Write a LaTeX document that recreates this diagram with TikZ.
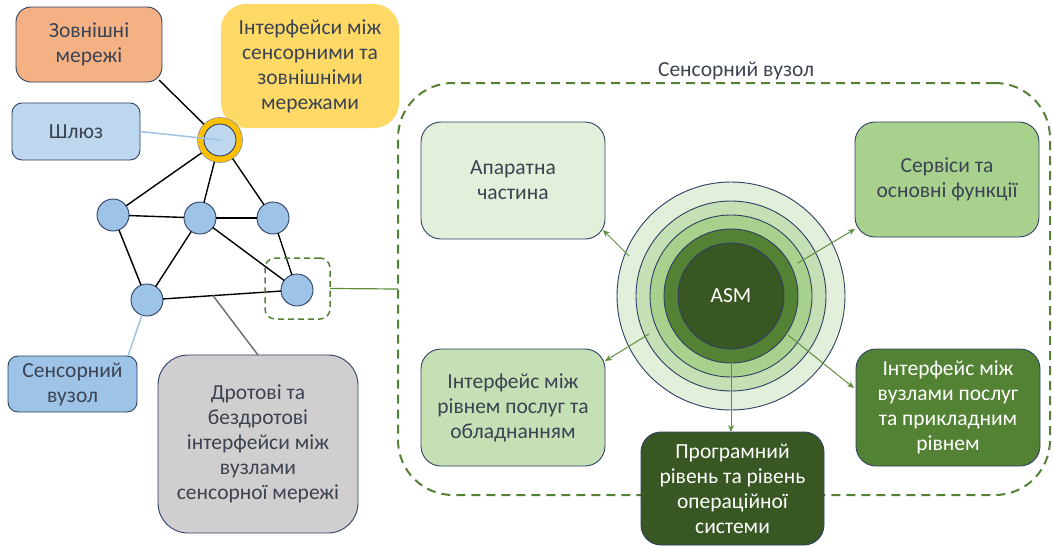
\documentclass[tikz,border=0pt]{standalone}
\usepackage{fontspec}
\setmainfont{Carlito}
\usetikzlibrary{arrows.meta,calc}
\definecolor{navy}{HTML}{2F3F63}
\definecolor{txt}{HTML}{3B4352}
\definecolor{cExt}{HTML}{F4B183}
\definecolor{cYel}{HTML}{FFD966}
\definecolor{cGold}{HTML}{FFC000}
\definecolor{cLB}{HTML}{BDD7EE}
\definecolor{cMB}{HTML}{9DC3E6}
\definecolor{cGray}{HTML}{D0CECE}
\definecolor{gA}{HTML}{E2EFDA}
\definecolor{gB}{HTML}{C5E0B4}
\definecolor{gC}{HTML}{A9D18E}
\definecolor{gD}{HTML}{548235}
\definecolor{gE}{HTML}{385723}
\definecolor{dashg}{HTML}{548235}
\definecolor{arrg}{HTML}{5E8F3E}
\tikzset{
  box/.style={draw=navy, line width=0.9pt, rounded corners=#1, inner sep=0pt, outer sep=0pt,
    align=center, font=\fontsize{21.5}{25}\selectfont, text=txt},
  box/.default=20pt,
  ring/.style={circle, draw=navy, line width=0.9pt, inner sep=0pt, outer sep=0pt},
  gnode/.style={circle, draw=navy, line width=0.9pt, fill=cMB, minimum size=32pt, inner sep=0pt, outer sep=0pt},
  edge/.style={draw=black, line width=1.4pt},
  arr/.style={draw=arrg, line width=1pt, -{Stealth[length=7pt,width=6pt]}},
  bigdash/.style={draw=dashg, line width=2pt, dash pattern=on 9pt off 6pt},
}
\begin{document}
\begin{tikzpicture}[x=1pt,y=-1pt]
\useasboundingbox (0,0) rectangle (1052,546);

% ---- container ----
\node[bigdash, rounded corners=55pt, minimum width=652pt, minimum height=412pt, inner sep=0pt, outer sep=0pt] (cont) at (724,289) {};
\node[font=\fontsize{21.5}{25}\selectfont, text=txt] (contlab) at (736,71) {Сенсорний вузол};

% ---- left boxes ----
\node[box=15pt, fill=cExt, minimum width=146pt, minimum height=75pt] (ext) at (89,44.5) {Зовнішні\\мережі};
\node[box=25pt, draw=none, fill=cYel, minimum width=178pt, minimum height=124pt] (yel) at (310,66) {Інтерфейси між\\сенсорними та\\зовнішніми\\мережами};
\node[box=10pt, fill=cLB, minimum width=128pt, minimum height=57pt] (shl) at (76,131.5) {Шлюз};
\node[box=10pt, fill=cMB, minimum width=129pt, minimum height=56pt] (sn) at (72.5,384) {Сенсорний\\вузол};
\node[box=30pt, fill=cGray, minimum width=200pt, minimum height=178pt] (gray) at (258,444) {Дротові та\\бездротові\\інтерфейси між\\вузлами\\сенсорної мережі};

% ---- graph ----
\node[circle, draw=navy!60, line width=0.6pt, fill=cGold, minimum size=45pt, inner sep=0pt, outer sep=0pt] (gwr) at (220,140) {};
\node[gnode, fill=cLB] (gw) at (220,140) {};
\node[gnode] (n1) at (113,215) {};
\node[gnode] (n2) at (200,218) {};
\node[gnode] (n3) at (273,218) {};
\node[gnode] (n4) at (147,300) {};
\node[gnode] (n5) at (297,290) {};

\draw[edge] ($(ext.south east)+(-3,-2)$) -- (gwr);
\draw[edge] (gwr) -- (n1);
\draw[edge] (gwr) -- (n2);
\draw[edge] (gwr) -- (n3);
\draw[edge] (n1) -- (n2);
\draw[edge] (n2) -- (n3);
\draw[edge] (n1) -- (n4);
\draw[edge] (n2) -- (n4);
\draw[edge] (n2) -- (n5);
\draw[edge] (n3) -- (n5);
\draw[edge] (n4) -- (n5);

\draw[draw=cMB, line width=1.5pt] (shl.east) -- (gw.center);
\draw[draw=cMB, line width=1.5pt] ($(sn.north east)+(-9,0)$) -- (n4);
\coordinate (mid45) at ($(n4)!0.44!(n5)$);
\draw[draw=gray!90!black, line width=1.5pt] (gray.north) -- (mid45);

\node[draw=dashg, line width=1.5pt, dash pattern=on 6pt off 4pt, rounded corners=10pt, minimum width=65pt, minimum height=61pt, inner sep=0pt, outer sep=0pt] (sb) at (297.5,288.5) {};
\draw[draw=arrg, line width=1.2pt] (sb.east) -- (cont.west);

% ---- rings ----
\node[ring, fill=gA, minimum size=228pt] (r1) at (731,296) {};
\node[ring, fill=gB, minimum size=190pt] (r2) at (731,296) {};
\node[ring, fill=gC, minimum size=162pt] (r3) at (731,296) {};
\node[ring, fill=gD, minimum size=134pt] (r4) at (731,296) {};
\node[ring, fill=gE, minimum size=106pt, text=white, font=\fontsize{21.5}{25}\selectfont] (asm) at (731,296) {ASM};

% ---- right boxes ----
\node[box, fill=gA, minimum width=184pt, minimum height=117pt] (hw) at (513,180.5) {Апаратна\\частина};
\node[box, fill=gC, minimum width=184pt, minimum height=115pt] (svc) at (947,179.5) {Сервіси та\\основні функції};
\node[box, fill=gB, minimum width=184pt, minimum height=117pt] (ifl) at (513,407.5) {Інтерфейс між\\рівнем послуг та\\обладнанням};
\node[box, fill=gD, text=white, minimum width=184pt, minimum height=117pt] (ifr) at (948,407.5) {Інтерфейс між\\вузлами послуг\\та прикладним\\рівнем};
\node[box, fill=gE, text=white, minimum width=183pt, minimum height=113pt] (prog) at (732.5,488.5) {Програмний\\рівень та рівень\\операційної\\системи};

% ---- arrows ----
\coordinate (s1) at (629,256);
\coordinate (s2) at (798,263);
\coordinate (s3) at (649,334);
\coordinate (s4) at (788,335);
\coordinate (s5) at (731,362);
\draw[arr] (s1) -- ($(hw.south east)+(-2,-9)$);
\draw[arr] (s2) -- ($(svc.south west)+(0,-8)$);
\draw[arr] (s3) -- ($(ifl.north east)+(0,12)$);
\draw[arr] (s4) -- ($(ifr.north west)+(-2,39)$);
\draw[arr] (s5) -- (prog.north -| s5);
\end{tikzpicture}
\end{document}
